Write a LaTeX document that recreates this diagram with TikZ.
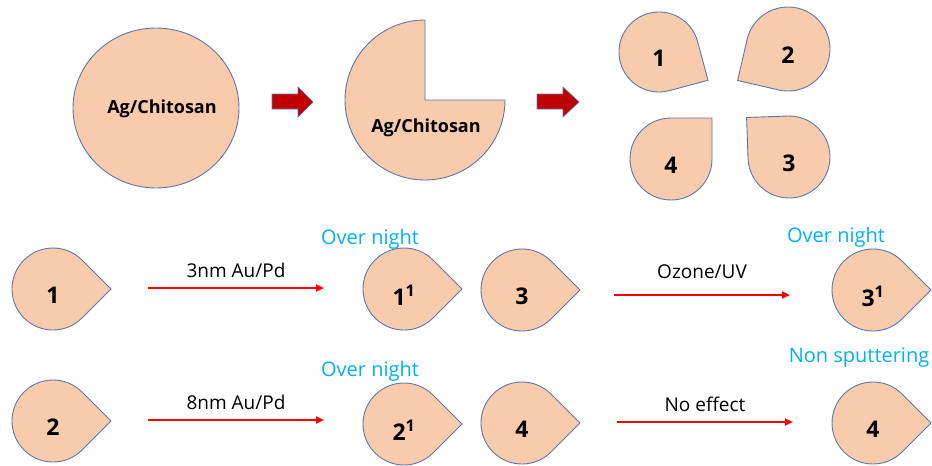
\documentclass[tikz,border=0pt]{standalone}
\usepackage{fontspec}
\setmainfont{Open Sans}
\usetikzlibrary{arrows.meta,shapes.geometric}
\definecolor{peach}{HTML}{F8CBAD}
\definecolor{edge}{HTML}{5A77AE}
\definecolor{skyb}{HTML}{00B0F0}
\definecolor{dred}{HTML}{C00000}
\tikzset{
  tear/.style={fill=peach, draw=edge, line width=0.9pt, line join=miter},
  num/.style={font=\fontsize{23}{26}\selectfont\bfseries, inner sep=0pt},
  cond/.style={font=\fontsize{19}{22}\selectfont, inner sep=0pt, text=black},
  note/.style={font=\fontsize{20}{23}\selectfont, inner sep=0pt, text=skyb},
  redarrow/.style={draw=red, line width=2.6pt, -{Triangle[length=8pt,width=7pt]}},
  blockarrow/.style={fill=dred, draw=edge, line width=0.6pt},
}
\newcommand\Tear[6]{%
  \coordinate (#1) at (#2,#3);
  \draw[tear, shift={(#2,#3)}] ({#5+45}:#4) arc[start angle={#5+45}, end angle={#5+315}, radius=#4] -- ({#5}:{#4*1.41421}) -- cycle;
  \node[num] (#1-l) at (#2,#3+6) {#6};
}
\begin{document}
\begin{tikzpicture}[x=1pt,y=-1pt]
\useasboundingbox (0,0) rectangle (932,466);
% top row
\node[ellipse, fill=peach, draw=edge, line width=0.9pt, minimum width=166, minimum height=160, inner sep=0pt] (big) at (156,108) {};
\node[font=\fontsize{18}{21}\selectfont\bfseries, inner sep=0pt] (bigl) at (162,109) {Ag/Chitosan};
\draw[blockarrow] (272,94) -- (298,94) -- (298,87) -- (313,102) -- (298,117) -- (298,109) -- (272,109) -- cycle;
\coordinate (pac) at (425,100);
\draw[tear] (pac) -- (425,20) arc[start angle=270, end angle=0, radius=80] -- cycle;
\node[font=\fontsize{18}{21}\selectfont\bfseries, inner sep=0pt] (pacl) at (426,128) {Ag/Chitosan};
\draw[blockarrow] (537,94) -- (563,94) -- (563,87) -- (579,102) -- (563,117) -- (563,109) -- (537,109) -- cycle;
\Tear{q1}{659}{52}{40}{30}{1}
\Tear{q2}{788}{49}{42}{148}{2}
\Tear{q3}{789}{157}{41}{223}{3}
\Tear{q4}{671}{159}{41}{315}{4}
% row 1
\Tear{a1}{53}{289}{41}{0}{1}
\Tear{b1}{404}{289}{41}{0}{1\textsuperscript{1}}
\coordinate (a1s) at (148,288);
\coordinate (a1e) at (324,288);
\draw[redarrow] (a1s) -- (a1e) node[cond, midway, above=9pt] (c1) {3nm Au/Pd};
\node[note] (n1) at (370,239) {Over night};
\Tear{a3}{522}{290}{41}{0}{3}
\Tear{b3}{873}{290}{41}{0}{3\textsuperscript{1}}
\coordinate (a3s) at (614,295);
\coordinate (a3e) at (790,295);
\draw[redarrow] (a3s) -- (a3e) node[cond, midway, above=15pt] (c3) {Ozone/UV};
\node[note] (n3) at (836,237) {Over night};
% row 2
\Tear{a2}{53}{421}{41}{0}{2}
\Tear{b2}{404}{424}{41}{0}{2\textsuperscript{1}}
\coordinate (a2s) at (148,420);
\coordinate (a2e) at (324,420);
\draw[redarrow] (a2s) -- (a2e) node[cond, midway, above=9pt] (c2) {8nm Au/Pd};
\node[note] (n2) at (370,371) {Over night};
\Tear{a4}{522}{423}{41}{0}{4}
\Tear{b4}{873}{423}{41}{0}{4}
\coordinate (a4s) at (617,422);
\coordinate (a4e) at (793,422);
\draw[redarrow] (a4s) -- (a4e) node[cond, midway, above=9pt] (c4) {No effect};
\node[note] (n4) at (859,358) {Non sputtering};
\end{tikzpicture}
\end{document}
